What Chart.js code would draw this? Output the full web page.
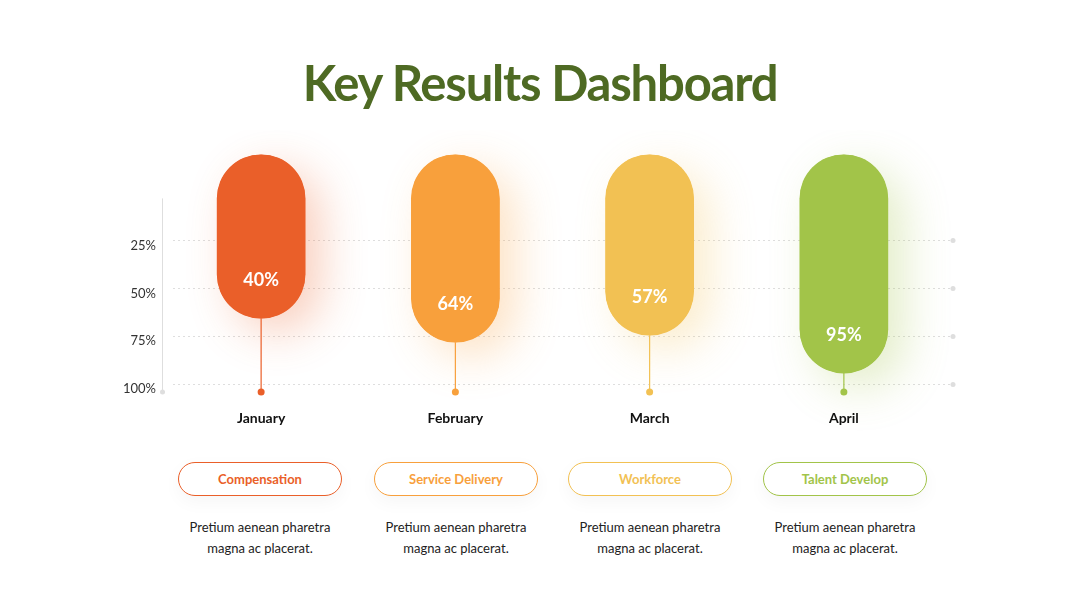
<!DOCTYPE html>
<html>
<head>
<meta charset="utf-8">
<script src="https://cdn.jsdelivr.net/npm/chart.js@4.4.1/dist/chart.umd.min.js"></script>
<style>
  html, body { margin: 0; padding: 0; background: #fff; }
  body { width: 1080px; height: 608px; position: relative; overflow: hidden; font-family: Lato, "Open Sans", sans-serif; }
  h1 { position: absolute; top: 58px; left: 0; width: 1080px; margin: 0; text-align: center;
       font-size: 49px; line-height: 1; font-weight: 700; letter-spacing: -1.2px; color: #4e6a23; }
  #wrap { position: absolute; left: 0; top: 130px; width: 1080px; height: 310px; }
  .area { position: absolute; top: 462px; width: 164px; margin-left: -82px; text-align: center; }
  .tag { height: 32px; line-height: 32px; border: 1px solid; border-radius: 17px; background: #fff;
         font-size: 13px; font-weight: 700; box-shadow: 0 6px 18px rgba(0,0,0,0.04); }
  .desc { margin-top: 21px; font-size: 13px; line-height: 21px; color: #222; }
</style>
</head>
<body>
<h1>Key Results Dashboard</h1>
<div id="wrap"><canvas id="chart" width="1080" height="310"></canvas></div>
<div id="areas"></div>
<script>
// chart data
const months = ['January', 'February', 'March', 'April'];
const results = [40, 64, 57, 95];
const tickValues = [25, 50, 75, 100];
const colors = ['#ea5f29', '#f8a03c', '#f2c153', '#a2c449'];
const areas = ['Compensation', 'Service Delivery', 'Workforce', 'Talent Develop'];
const blurb = 'Pretium aenean pharetra<br>magna ac placerat.';
const centers = [260, 456, 650, 845];

// cards under the chart
const holder = document.getElementById('areas');
areas.forEach((name, i) => {
    const el = document.createElement('div');
    el.className = 'area';
    el.style.left = centers[i] + 'px';
    el.innerHTML = '<div class="tag" style="color:' + colors[i] + ';border-color:' + colors[i] + '">' + name +
        '</div><div class="desc">' + blurb + '</div>';
    holder.appendChild(el);
});

function withAlpha(hex, a) {
    const n = parseInt(hex.slice(1), 16);
    return 'rgba(' + (n >> 16) + ',' + ((n >> 8) & 255) + ',' + (n & 255) + ',' + a + ')';
}

const decor = {
    id: 'decor',
    beforeDatasetsDraw(chart) {
        const { ctx, chartArea } = chart;
        const y = chart.scales.y;
        ctx.save();
        // left axis line
        ctx.strokeStyle = '#dedede';
        ctx.fillStyle = '#dedede';
        ctx.lineWidth = 1;
        const ax = chartArea.left - 1.5;
        ctx.beginPath();
        ctx.moveTo(ax, y.getPixelForValue(3));
        ctx.lineTo(ax, chartArea.bottom);
        ctx.stroke();
        ctx.beginPath();
        ctx.arc(ax, chartArea.bottom, 2.5, 0, Math.PI * 2);
        ctx.fill();
        // dotted grid lines
        tickValues.forEach(v => {
            const py = Math.round(y.getPixelForValue(v)) + 0.5;
            ctx.setLineDash([2, 3]);
            ctx.beginPath();
            ctx.moveTo(chartArea.left + 9, py);
            ctx.lineTo(chartArea.right + 10, py);
            ctx.stroke();
            ctx.setLineDash([]);
            ctx.beginPath();
            ctx.arc(chartArea.right + 12, py, 2.5, 0, Math.PI * 2);
            ctx.fill();
        });
        // soft coloured glow behind each pill
        chart.getDatasetMeta(0).data.forEach((bar, i) => {
            const w = bar.width;
            const top = Math.min(bar.y, bar.base);
            const h = Math.abs(bar.base - bar.y);
            ctx.save();
            ctx.shadowColor = withAlpha(colors[i], 0.3);
            ctx.shadowBlur = 45;
            ctx.shadowOffsetX = 16;
            ctx.shadowOffsetY = 14;
            ctx.fillStyle = colors[i];
            ctx.beginPath();
            ctx.roundRect(bar.x - w / 2, top, w, h, w / 2);
            ctx.fill();
            ctx.restore();
        });
        ctx.restore();
    },
    afterDatasetsDraw(chart) {
        const { ctx, chartArea } = chart;
        ctx.save();
        chart.getDatasetMeta(0).data.forEach((bar, i) => {
            ctx.strokeStyle = colors[i];
            ctx.fillStyle = colors[i];
            ctx.lineWidth = 1.2;
            ctx.beginPath();
            ctx.moveTo(bar.x, bar.y);
            ctx.lineTo(bar.x, chartArea.bottom);
            ctx.stroke();
            ctx.beginPath();
            ctx.arc(bar.x, chartArea.bottom, 3.5, 0, Math.PI * 2);
            ctx.fill();
            ctx.fillStyle = '#fff';
            ctx.font = 'bold 18px Lato';
            ctx.textAlign = 'center';
            ctx.textBaseline = 'middle';
            ctx.fillText(results[i] + '%', bar.x, bar.y - 38);
        });
        ctx.restore();
    }
};

Chart.defaults.font.family = 'Lato';

new Chart(document.getElementById('chart').getContext('2d'), {
    type: 'bar',
    data: {
        labels: months,
        datasets: [{
            data: results,
            yAxisID: 'yv',
            base: -124,
            backgroundColor: colors,
            barThickness: 88,
            borderRadius: 44,
            borderSkipped: false
        }]
    },
    options: {
        responsive: false,
        animation: false,
        layout: { padding: { top: 15, right: 139, left: 0, bottom: 0 } },
        plugins: { legend: { display: false }, tooltip: { enabled: false } },
        scales: {
            x: {
                grid: { display: false, drawTicks: false },
                border: { display: false },
                ticks: { padding: 18, color: '#111', font: { size: 14, weight: 'bold' } },
                afterFit(scale) { scale.height = 48; }
            },
            y: {
                position: 'left',
                reverse: true,
                min: -24.5,
                max: 104.2,
                grid: { display: false, drawTicks: false },
                border: { display: false },
                afterBuildTicks(scale) { scale.ticks = tickValues.map(v => ({ value: v })); },
                ticks: {
                    padding: 8,
                    labelOffset: 5,
                    color: '#333',
                    font: { size: 13 },
                    callback: v => v + '%'
                },
                afterFit(scale) { scale.width = 164; }
            },
            yv: {
                display: false,
                reverse: true,
                min: -133,
                max: 114
            }
        }
    },
    plugins: [decor]
});
</script>
</body>
</html>
